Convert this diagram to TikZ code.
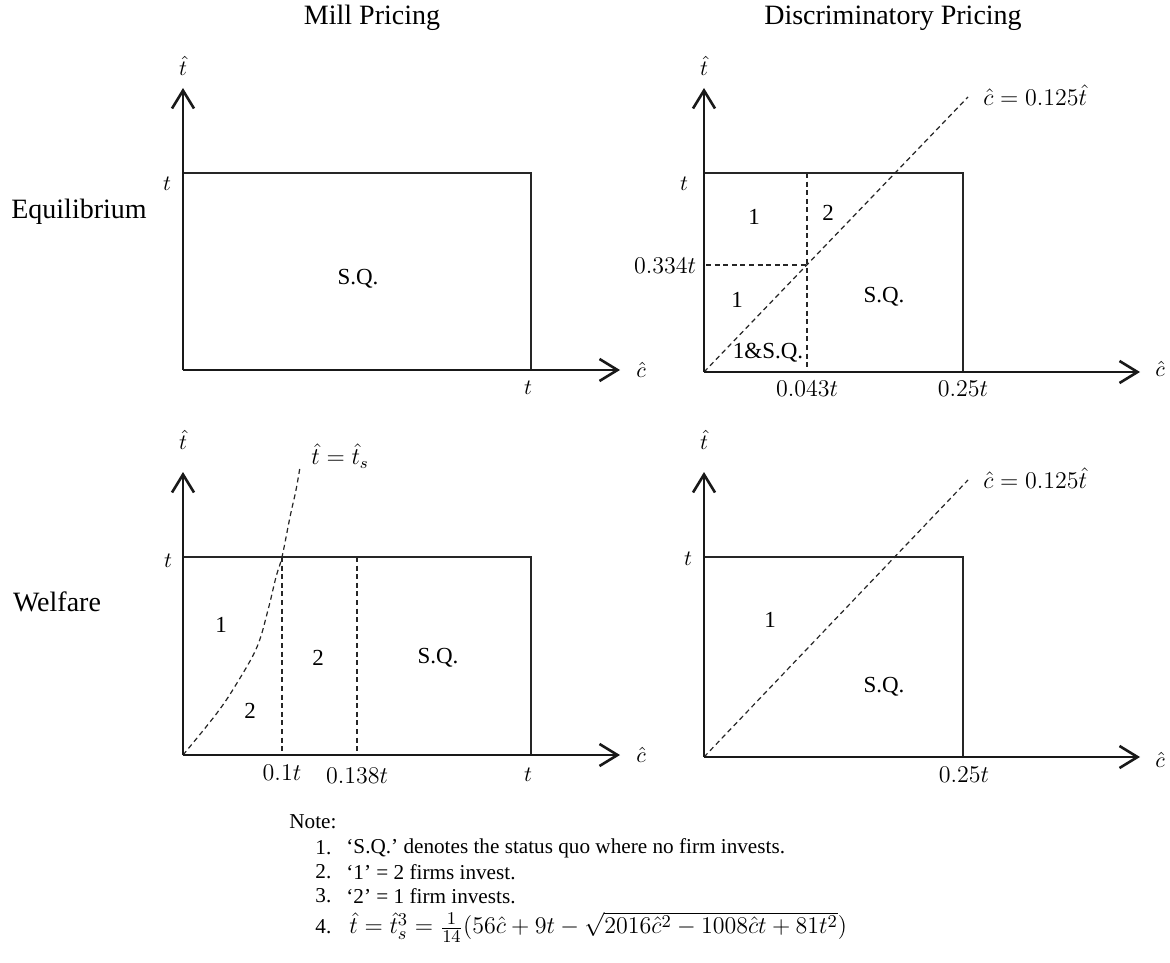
\documentclass[tikz,border=0pt]{standalone}
\usepackage{fontspec}
\setmainfont{Liberation Serif}
\usetikzlibrary{arrows.meta}
\begin{document}
\begin{tikzpicture}[x=0.5pt,y=-0.5pt,
  axis/.style={line width=0.9pt, draw=black!90, -{Straight Barb[length=9pt,width=11pt,line width=1.3pt]}},
  box/.style={line width=0.9pt, draw=black!85},
  dsh/.style={line width=0.6pt, draw=black!85, dash pattern=on 2.5pt off 1.8pt},
  title/.style={font=\fontsize{14}{16}\selectfont, inner sep=0pt},
  lab/.style={font=\fontsize{11.5}{13}\selectfont, inner sep=0pt},
  mlab/.style={font=\fontsize{12}{14}\selectfont, inner sep=0pt},
  alab/.style={font=\fontsize{11}{12}\selectfont, inner sep=0pt},
  note/.style={font=\fontsize{10.6}{12}\selectfont, inner sep=0pt, anchor=west},
]
\useasboundingbox[fill=white] (0,0) rectangle (1170,962);

% titles
\node[title] (mill) at (372,18) {Mill Pricing};
\node[title] (disc) at (893,18) {Discriminatory Pricing};
\node[title] (equi) at (79,212) {Equilibrium};
\node[title] (welf) at (57,602) {Welfare};

% ---------- Panel 1: top-left ----------
\coordinate (O1) at (183,370);
\coordinate (Y1) at (183,88);
\coordinate (X1) at (620,370);
\coordinate (A1) at (183,173);
\coordinate (B1) at (531,173);
\coordinate (C1) at (531,370);
\draw[box] (A1) -- (B1) -- (C1);
\draw[axis] (O1) -- (Y1);
\draw[axis] (O1) -- (X1);
\node[alab] (ty1) at (183,66) {$\hat t$};
\node[alab] (tl1) at (167,184) {$t$};
\node[alab] (tb1) at (528,388) {$t$};
\node[alab] (cx1) at (641,370) {$\hat c$};
\node[lab] (sq1) at (358,279) {S.Q.};

% ---------- Panel 2: top-right ----------
\coordinate (O2) at (704,372);
\coordinate (Y2) at (704,88);
\coordinate (X2) at (1140,372);
\coordinate (A2) at (704,173);
\coordinate (B2) at (963,173);
\coordinate (C2) at (963,372);
\coordinate (V2t) at (807,173);
\coordinate (V2b) at (807,372);
\coordinate (H2l) at (706,265);
\coordinate (H2r) at (807,265);
\coordinate (D2) at (968,97);
\draw[box] (A2) -- (B2) -- (C2);
\draw[dsh] (V2t) -- (V2b);
\draw[dsh] (H2l) -- (H2r);
\draw[dsh] (O2) -- (D2);
\draw[axis] (O2) -- (Y2);
\draw[axis] (O2) -- (X2);
\node[alab] (ty2) at (704,66) {$\hat t$};
\node[alab] (tl2) at (684,184) {$t$};
\node[mlab] (h2) at (665,266) {$0.334t$};
\node[mlab] (v2) at (807,389) {$0.043t$};
\node[mlab] (q2) at (963,389) {$0.25t$};
\node[alab] (cx2) at (1160,369) {$\hat c$};
\node[mlab, anchor=west] (eq2) at (983,95) {$\hat c = 0.125\hat t$};
\node[lab] (r21) at (754,217) {1};
\node[lab] (r22) at (828,213) {2};
\node[lab] (r23) at (737,300) {1};
\node[lab] (r24) at (884,297) {S.Q.};
\node[lab] (r25) at (768,353) {1\&S.Q.};

% ---------- Panel 3: bottom-left ----------
\coordinate (O3) at (183,755);
\coordinate (Y3) at (183,472);
\coordinate (X3) at (620,755);
\coordinate (A3) at (183,557);
\coordinate (B3) at (531,557);
\coordinate (C3) at (531,755);
\coordinate (V3t) at (282,557);
\coordinate (V3b) at (282,755);
\coordinate (W3t) at (357,557);
\coordinate (W3b) at (357,755);
\coordinate (S3) at (300,467);
\draw[box] (A3) -- (B3) -- (C3);
\draw[dsh] (V3t) -- (V3b);
\draw[dsh] (W3t) -- (W3b);
\draw[dsh] plot[smooth, tension=0.6] coordinates {(O3) (217,713) (237,683) (257,647) (268,610) (276,577) (282,557) (290,517) (296,490) (S3)};
\draw[axis] (O3) -- (Y3);
\draw[axis] (O3) -- (X3);
\node[alab] (ty3) at (183,440) {$\hat t$};
\node[alab] (tl3) at (168,561) {$t$};
\node[mlab, anchor=west] (eq3) at (311,456) {$\hat t = \hat t_s$};
\node[mlab] (v3) at (282,773) {$0.1t$};
\node[mlab] (w3) at (357,776) {$0.138t$};
\node[alab] (tb3) at (528,775) {$t$};
\node[alab] (cx3) at (641,755) {$\hat c$};
\node[lab] (r31) at (221,625) {1};
\node[lab] (r32) at (250,711) {2};
\node[lab] (r33) at (318,658) {2};
\node[lab] (r34) at (438,658) {S.Q.};

% ---------- Panel 4: bottom-right ----------
\coordinate (O4) at (704,757);
\coordinate (Y4) at (704,472);
\coordinate (X4) at (1140,757);
\coordinate (A4) at (704,557);
\coordinate (B4) at (963,557);
\coordinate (C4) at (963,757);
\coordinate (D4) at (968,480);
\draw[box] (A4) -- (B4) -- (C4);
\draw[dsh] (O4) -- (D4);
\draw[axis] (O4) -- (Y4);
\draw[axis] (O4) -- (X4);
\node[alab] (ty4) at (704,440) {$\hat t$};
\node[alab] (tl4) at (688,559) {$t$};
\node[mlab] (q4) at (964,775) {$0.25t$};
\node[alab] (cx4) at (1160,760) {$\hat c$};
\node[mlab, anchor=west] (eq4) at (983,478) {$\hat c = 0.125\hat t$};
\node[lab] (r41) at (770,620) {1};
\node[lab] (r42) at (884,687) {S.Q.};

% ---------- Note ----------
\node[note] (nt) at (289,822) {Note:};
\node[note] (n1) at (315,848) {1.};
\node[note] (n2) at (315,872) {2.};
\node[note] (n3) at (315,896) {3.};
\node[note] (n4) at (315,927) {4.};
\node[note] (m1) at (346,848) {‘S.Q.’ denotes the status quo where no firm invests.};
\node[note] (m2) at (346,872) {‘1’ = 2 firms invest.};
\node[note] (m3) at (346,896) {‘2’ = 1 firm invests.};
\node[note, font=\fontsize{12.5}{14}\selectfont] (m4) at (349,927) {$\hat t = \hat t_s^3 = \frac{1}{14}\bigl(56\hat c + 9t - \sqrt{2016\hat c^2 - 1008\hat c t + 81t^2}\bigr)$};
\end{tikzpicture}
\end{document}
